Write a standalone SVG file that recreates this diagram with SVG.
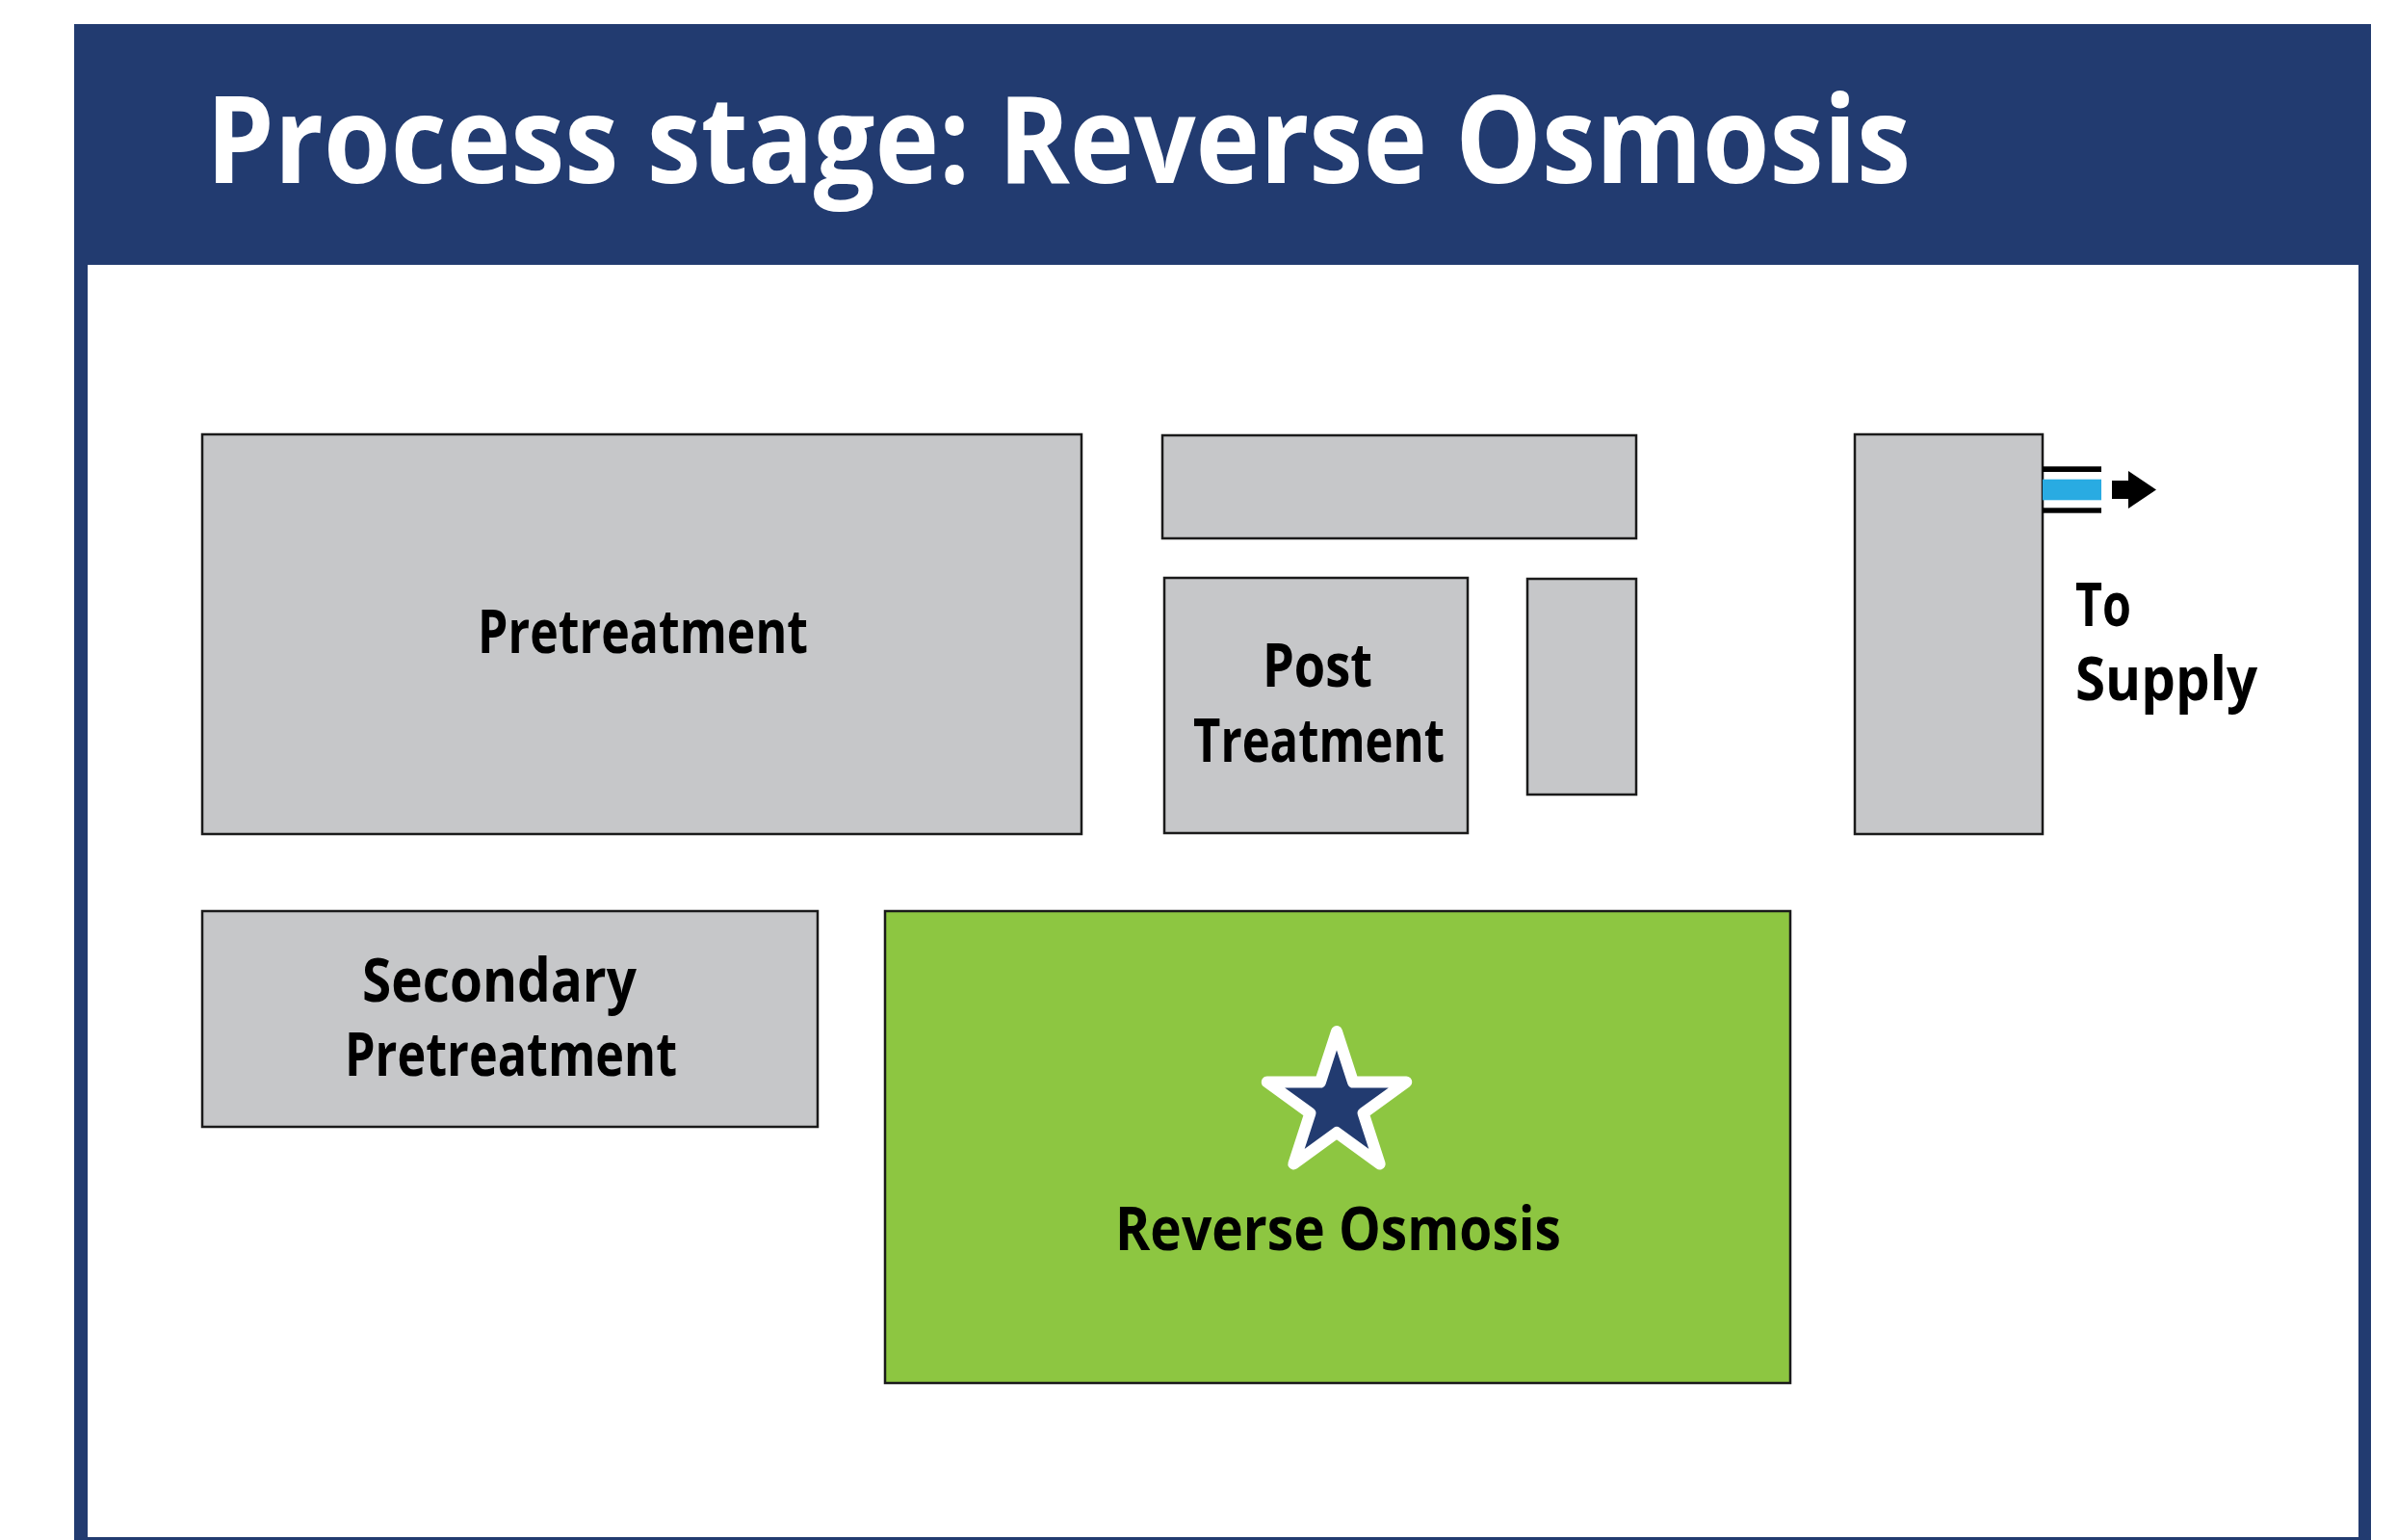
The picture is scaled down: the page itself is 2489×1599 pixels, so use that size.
<svg xmlns="http://www.w3.org/2000/svg" width="2489" height="1599" viewBox="0 0 2489 1599">
  <style>
    .box { fill: #c6c7c9; stroke: #1a1a1a; stroke-width: 2.5; }
    .ro { fill: #8dc641; stroke: #1a1a1a; stroke-width: 2.5; }
    .lbl { font-family: "Open Sans", "Noto Sans", "Liberation Sans", sans-serif; font-weight: 700; font-size: 63px; fill: #000; }
    .title { font-family: "Open Sans", "Noto Sans", "Liberation Sans", sans-serif; font-weight: 700; font-size: 126px; fill: #fff; }
  </style>
  <rect x="0" y="0" width="2489" height="1599" fill="#ffffff"/>
  <g id="frame">
    <rect x="77" y="25" width="2385" height="1580" fill="#223b70"/>
    <rect x="91" y="275" width="2358" height="1321" fill="#ffffff"/>
    <text class="title" x="214" y="190" textLength="1770" lengthAdjust="spacingAndGlyphs">Process stage: Reverse Osmosis</text>
  </g>
  <g id="pretreatment">
    <rect class="box" x="210" y="451" width="913" height="415"/>
    <text class="lbl" x="496" y="678" textLength="343" lengthAdjust="spacingAndGlyphs">Pretreatment</text>
  </g>
  <g id="top-middle">
    <rect class="box" x="1207" y="452" width="492" height="107"/>
  </g>
  <g id="post-treatment">
    <rect class="box" x="1209" y="600" width="315" height="265"/>
    <text class="lbl" x="1311" y="713" textLength="114" lengthAdjust="spacingAndGlyphs">Post</text>
    <text class="lbl" x="1239" y="791" textLength="261" lengthAdjust="spacingAndGlyphs">Treatment</text>
  </g>
  <g id="small-unit">
    <rect class="box" x="1586" y="601" width="113" height="224"/>
  </g>
  <g id="supply-tank">
    <rect class="box" x="1926" y="451" width="195" height="415"/>
  </g>
  <g id="secondary-pretreatment">
    <rect class="box" x="210" y="946" width="639" height="224"/>
    <text class="lbl" x="376" y="1040" textLength="285" lengthAdjust="spacingAndGlyphs">Secondary</text>
    <text class="lbl" x="358" y="1117" textLength="345" lengthAdjust="spacingAndGlyphs">Pretreatment</text>
  </g>
  <g id="reverse-osmosis">
    <rect class="ro" x="919" y="946" width="940" height="490"/>
    <polygon points="1388,1071 1405.05,1123.54 1460.28,1123.51 1415.58,1155.96 1432.67,1208.49 1388,1176 1343.33,1208.49 1360.42,1155.96 1315.72,1123.51 1370.95,1123.54" fill="#223b70" stroke="#ffffff" stroke-width="12" stroke-linejoin="round"/>
    <text class="lbl" x="1158" y="1298" textLength="463" lengthAdjust="spacingAndGlyphs">Reverse Osmosis</text>
  </g>
  <g id="to-supply">
    <text class="lbl" x="2155" y="650" textLength="58" lengthAdjust="spacingAndGlyphs">To</text>
    <text class="lbl" x="2155" y="727" textLength="189" lengthAdjust="spacingAndGlyphs">Supply</text>
  </g>
  <g id="connectors">
    <rect x="2121" y="484.3" width="61" height="5.7" fill="#000"/>
    <rect x="2121" y="497.7" width="61" height="21.6" fill="#29abe2"/>
    <rect x="2121" y="527.3" width="61" height="5.4" fill="#000"/>
    <rect x="2193" y="499" width="18" height="19" fill="#000"/>
    <polygon points="2210,489 2239,508.5 2210,528" fill="#000"/>
  </g>
</svg>
